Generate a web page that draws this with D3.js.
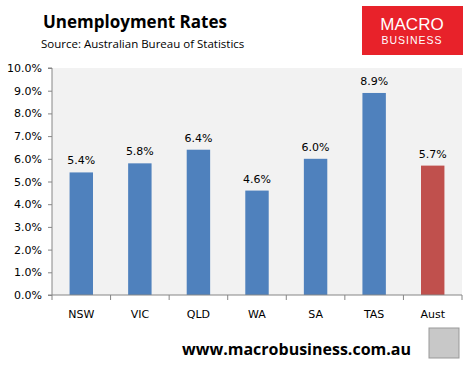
<!DOCTYPE html>
<html lang="en">
<head>
<meta charset="utf-8">
<title>Unemployment Rates</title>
<script src="https://d3js.org/d3.v7.min.js"></script>
<style>
  body { margin: 0; background: #fff; }
  text { font-family: "DejaVu Sans", Verdana, sans-serif; }
</style>
</head>
<body>
<svg width="473" height="366"></svg>
<script>
// data
var states = ["NSW", "VIC", "QLD", "WA", "SA", "TAS", "Aust"];
var rates = [5.4, 5.8, 6.4, 4.6, 6.0, 8.9, 5.7];
var yTicks = [0, 1, 2, 3, 4, 5, 6, 7, 8, 9, 10];

var svg = d3.select("svg");
var plotL = 52, plotR = 462, plotT = 68, plotB = 295;

var x = d3.scaleBand().domain(states).range([plotL, plotR]).paddingInner(0.6).paddingOuter(0.3);
var y = d3.scaleLinear().domain([0, 10]).range([plotB, plotT]);

// plot background
svg.append("rect")
  .attr("x", plotL).attr("y", plotT)
  .attr("width", plotR - plotL).attr("height", plotB - plotT)
  .attr("fill", "#f2f2f2");

// bars
svg.selectAll(".bar")
  .data(states)
  .enter().append("rect")
  .attr("x", function(d) { return x(d); })
  .attr("y", function(d, i) { return y(rates[i]); })
  .attr("width", x.bandwidth())
  .attr("height", function(d, i) { return plotB - y(rates[i]); })
  .attr("fill", function(d) { return d == "Aust" ? "#c0504d" : "#4f81bd"; });

// value labels
svg.selectAll(".val")
  .data(states)
  .enter().append("text")
  .attr("x", function(d) { return x(d) + x.bandwidth() / 2; })
  .attr("y", function(d, i) { return y(rates[i]) - 8; })
  .attr("text-anchor", "middle")
  .attr("font-size", "11px")
  .attr("fill", "#000")
  .text(function(d, i) { return rates[i].toFixed(1) + "%"; });

// y axis
var yAxis = svg.append("g")
  .attr("transform", "translate(" + plotL + ",0)")
  .call(d3.axisLeft(y).tickValues(yTicks).tickSize(4).tickFormat(function(d) { return d.toFixed(1) + "%"; }));
yAxis.select(".domain").attr("stroke", "#868686").attr("d", "M-4," + plotT + "H0V" + plotB + "H-4");
yAxis.selectAll(".tick line").attr("stroke", "#868686");
yAxis.selectAll(".tick text").attr("font-size", "11px").attr("fill", "#000").attr("x", -10)
  .style("font-family", "DejaVu Sans");

// x axis
var xg = svg.append("g").attr("transform", "translate(0," + plotB + ")");
xg.append("line").attr("x1", plotL).attr("x2", plotR).attr("stroke", "#868686");
var step = (plotR - plotL) / states.length;
xg.selectAll(".xt")
  .data(d3.range(states.length + 1))
  .enter().append("line")
  .attr("x1", function(d) { return plotL + d * step; })
  .attr("x2", function(d) { return plotL + d * step; })
  .attr("y1", 0).attr("y2", 5)
  .attr("stroke", "#868686");
xg.selectAll(".xl")
  .data(states)
  .enter().append("text")
  .attr("x", function(d) { return x(d) + x.bandwidth() / 2; })
  .attr("y", 23)
  .attr("text-anchor", "middle")
  .attr("font-size", "11px")
  .text(function(d) { return d; });

// titles
svg.append("text").attr("x", 43).attr("y", 28)
  .attr("font-size", "17px").attr("font-weight", "bold")
  .style("font-family", "Open Sans")
  .text("Unemployment Rates");
svg.append("text").attr("x", 41).attr("y", 48)
  .attr("font-size", "11.5px")
  .style("font-family", "Open Sans")
  .text("Source:  Australian Bureau of Statistics");

// logo
svg.append("rect").attr("x", 362).attr("y", 6).attr("width", 101).attr("height", 49).attr("fill", "#e8222a");
svg.append("text").attr("x", 412).attr("y", 30).attr("text-anchor", "middle")
  .attr("font-size", "17px").attr("fill", "#fff").style("font-family", "Liberation Sans")
  .text("MACRO");
svg.append("text").attr("x", 412).attr("y", 44).attr("text-anchor", "middle")
  .attr("font-size", "10.5px").attr("fill", "#fff").attr("letter-spacing", "1")
  .style("font-family", "Liberation Sans")
  .text("BUSINESS");

// footer
svg.append("text").attr("x", 411).attr("y", 355).attr("text-anchor", "end")
  .attr("font-size", "16px").attr("font-weight", "bold")
  .style("font-family", "Open Sans")
  .text("www.macrobusiness.com.au");
svg.append("rect").attr("x", 429).attr("y", 328).attr("width", 30).attr("height", 30)
  .attr("fill", "#c8c8c8").attr("stroke", "#999");
</script>
</body>
</html>
